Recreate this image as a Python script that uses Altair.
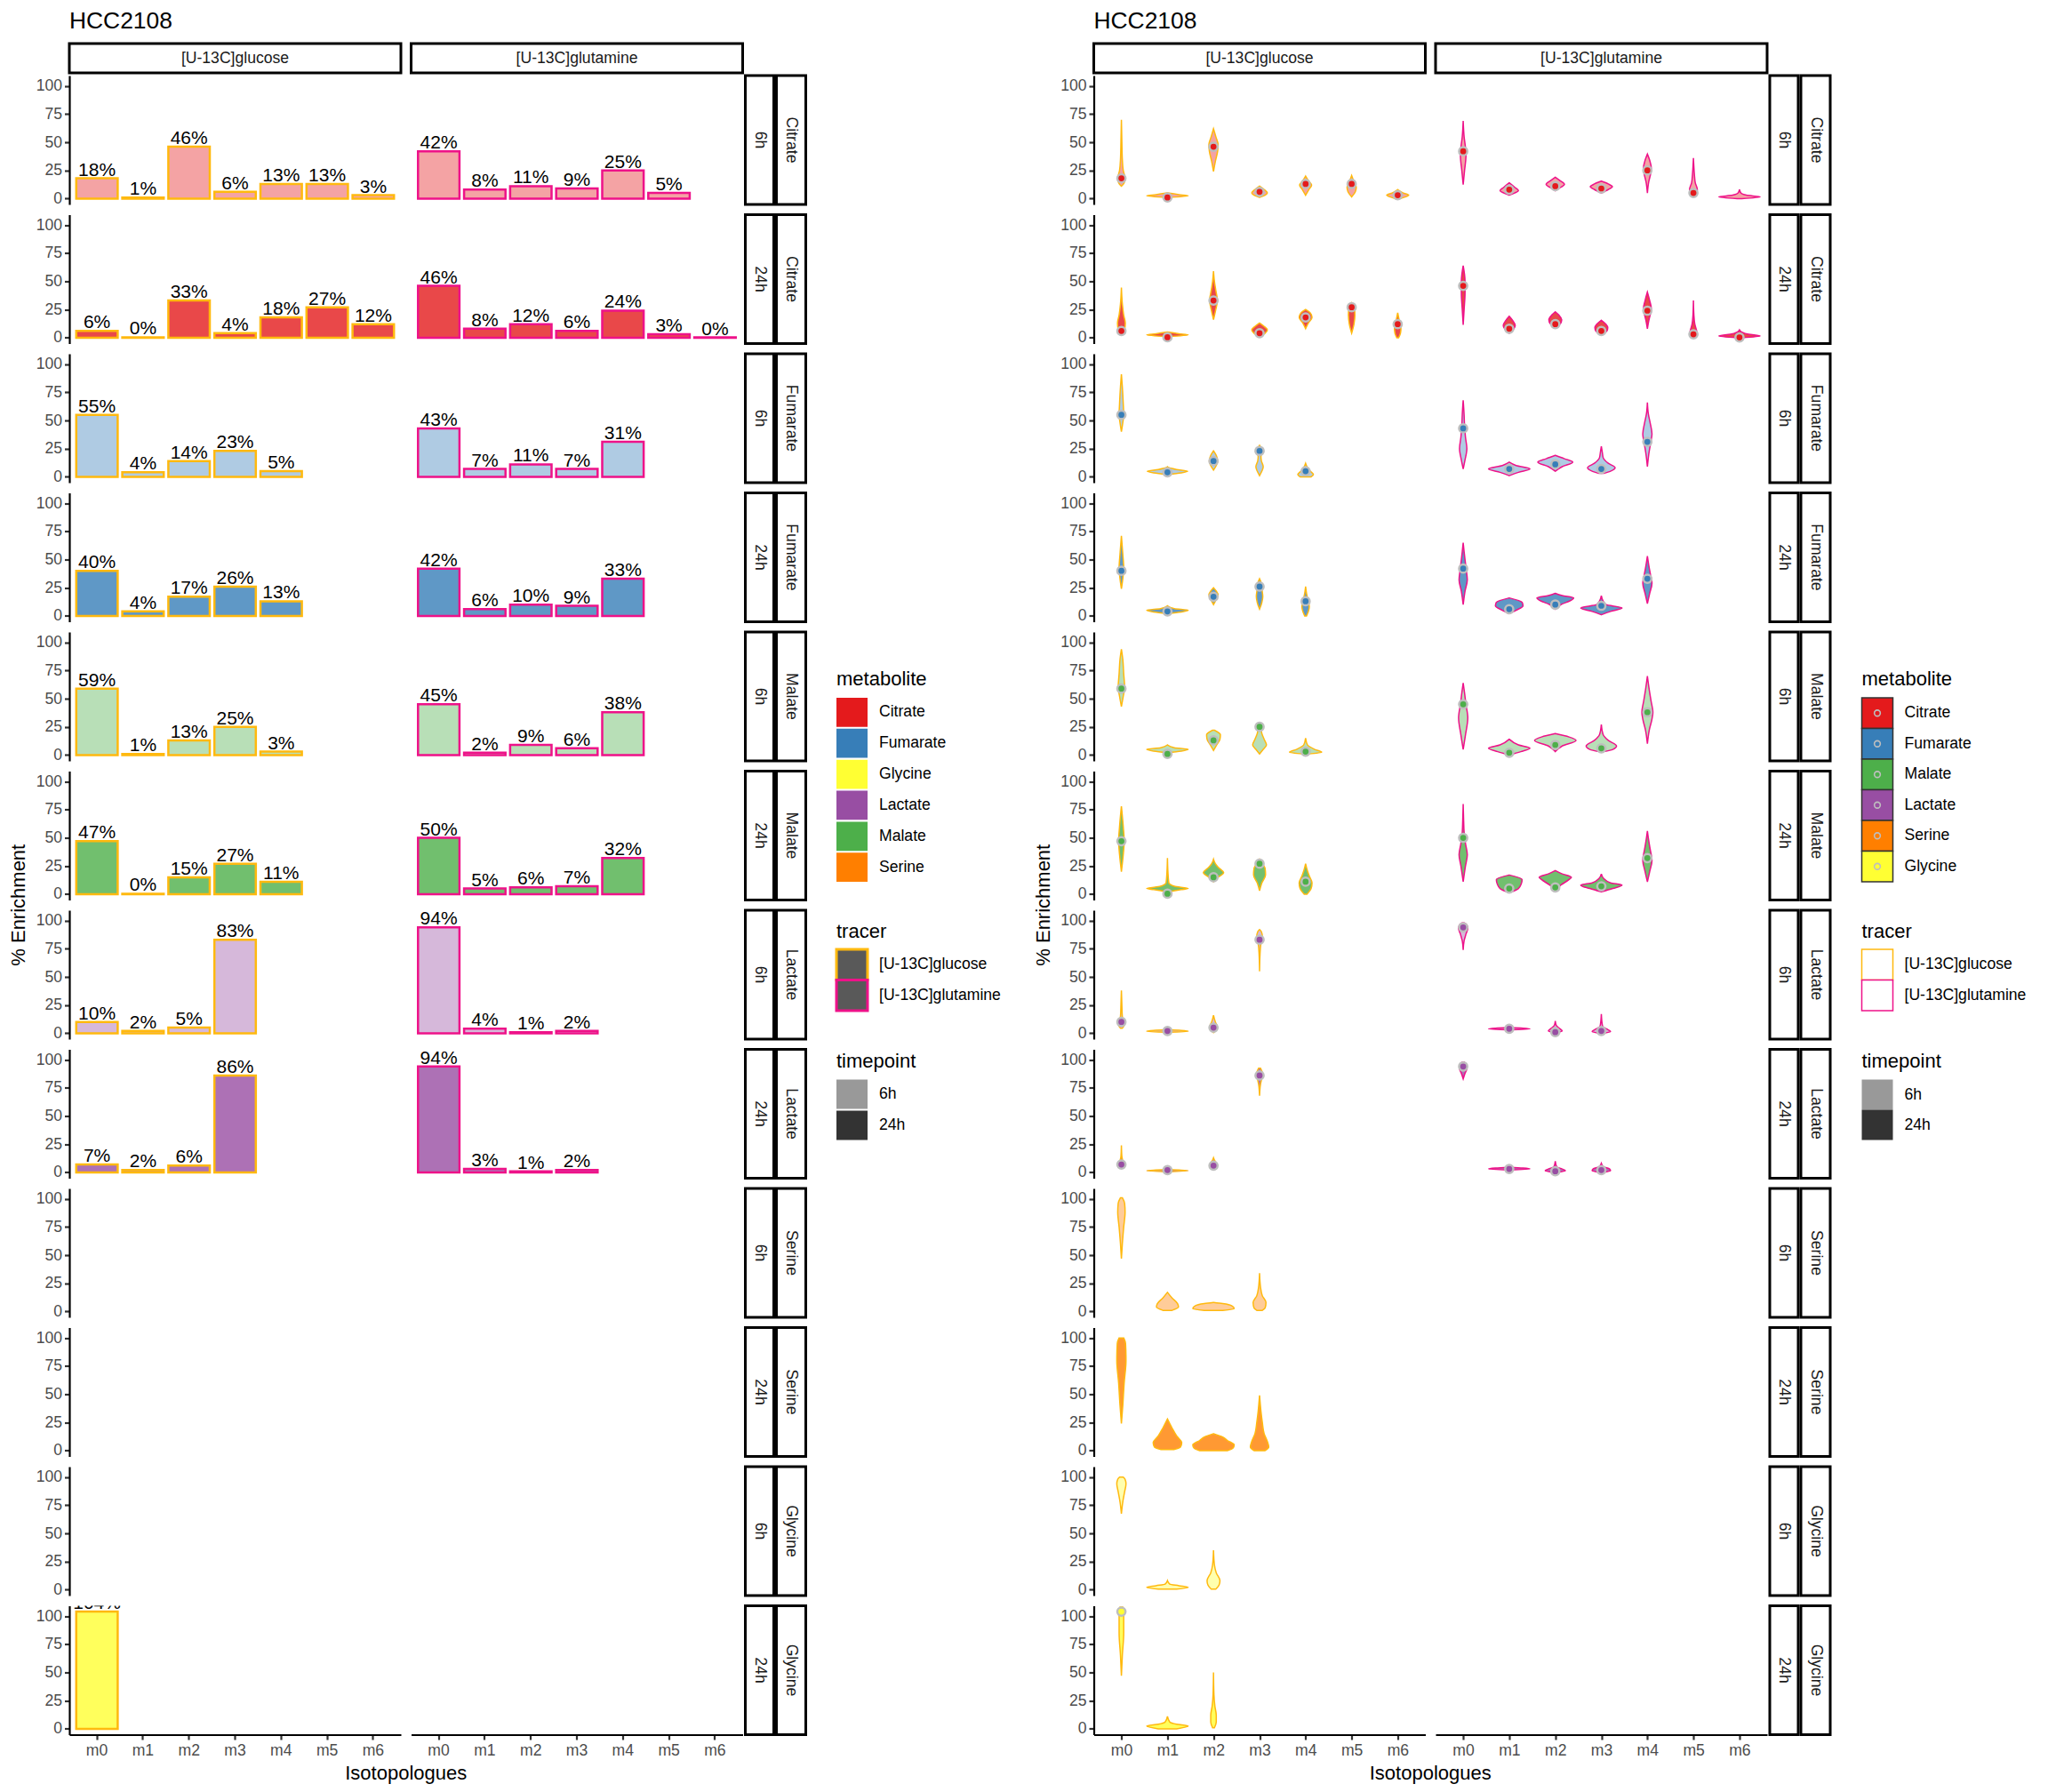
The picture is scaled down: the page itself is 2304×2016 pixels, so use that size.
import altair as alt
import pandas as pd

# ---------------- text / categories ----------------
plot_title = "HCC2108"
y_title = "% Enrichment"
x_title = "Isotopologues"
legend_titles = ["metabolite", "tracer", "timepoint"]
metabolites = ["Citrate", "Fumarate", "Malate", "Lactate", "Serine", "Glycine"]
legend_metabolites = ["Citrate", "Fumarate", "Glycine", "Lactate", "Malate", "Serine"]
timepoints = ["6h", "24h"]
tracers = ["[U-13C]glucose", "[U-13C]glutamine"]
isotopologues = ["m0", "m1", "m2", "m3", "m4", "m5", "m6"]
y_ticks = [0, 25, 50, 75, 100]

# ---------------- mean % enrichment (bars / points), m0.. ----------------
citrate_6h_glucose = [18, 1, 46, 6, 13, 13, 3]
citrate_6h_glutamine = [42, 8, 11, 9, 25, 5]
citrate_24h_glucose = [6, 0.4, 33, 4, 18, 27, 12]
citrate_24h_glutamine = [46, 8, 12, 6, 24, 3, 0.3]
fumarate_6h_glucose = [55, 4, 14, 23, 5]
fumarate_6h_glutamine = [43, 7, 11, 7, 31]
fumarate_24h_glucose = [40, 4, 17, 26, 13]
fumarate_24h_glutamine = [42, 6, 10, 9, 33]
malate_6h_glucose = [59, 1, 13, 25, 3]
malate_6h_glutamine = [45, 2, 9, 6, 38]
malate_24h_glucose = [47, 0.4, 15, 27, 11]
malate_24h_glutamine = [50, 5, 6, 7, 32]
lactate_6h_glucose = [10, 2, 5, 83]
lactate_6h_glutamine = [94, 4, 1, 2]
lactate_24h_glucose = [7, 2, 6, 86]
lactate_24h_glutamine = [94, 3, 1, 2]
glycine_24h_glucose = [104]

# ---------------- violin outlines: (enrichment levels, half-widths) per isotopologue ----------------
citrate_6h_glucose_violins = [
    ([11, 14, 18, 25, 35, 50, 70], [0, .06, .08, .04, .02, .01, 0]),
    ([1, 2.5, 3.5, 5], [0, .45, .25, 0]),
    ([24, 33, 42, 48, 55, 62], [0, .04, .09, .10, .05, 0]),
    ([1, 3, 5, 8, 11], [0, .12, .17, .10, 0]),
    ([3, 8, 12, 16, 20], [0, .07, .13, .06, 0]),
    ([1.5, 6, 10, 15, 20.5], [0, .08, .10, .05, 0]),
    ([0, 2, 3, 5, 8], [.05, .20, .24, .12, 0]),
]
citrate_6h_glutamine_violins = [
    ([12.5, 25, 38, 45, 55, 69], [0, .03, .06, .05, .02, 0]),
    ([3, 5, 7, 10, 14], [0, .12, .20, .12, 0]),
    ([7, 10, 12.5, 16, 19], [0, .12, .20, .10, 0]),
    ([5, 8, 10.5, 13, 15.5], [0, .15, .24, .15, 0]),
    ([5, 15, 22, 27, 34, 39.5], [0, .03, .07, .085, .05, 0]),
    ([2, 5, 8, 14, 22, 36], [0, .07, .085, .04, .02, 0]),
    ([0, 1.5, 3, 5, 8], [.05, .45, .15, .03, 0]),
]
citrate_24h_glucose_violins = [
    ([2.7, 7, 13, 20, 30, 44.5], [0, .07, .085, .05, .02, 0]),
    ([1, 2.5, 3.5, 5], [0, .45, .25, 0]),
    ([16, 25, 33, 42, 50, 59], [0, .05, .085, .05, .02, 0]),
    ([1, 4, 7, 10, 13], [0, .12, .17, .10, 0]),
    ([8, 13, 18, 22, 25], [0, .06, .14, .10, 0]),
    ([4, 12, 20, 26, 31], [0, .05, .07, .06, 0]),
    ([0, 4, 8, 14, 22], [.02, .06, .07, .04, 0]),
]
citrate_24h_glutamine_violins = [
    ([11.5, 25, 40, 50, 64], [0, .02, .04, .04, 0]),
    ([4, 8, 11, 15, 19], [0, .10, .13, .08, 0]),
    ([9, 12, 16, 20, 23], [0, .10, .14, .08, 0]),
    ([3, 6, 9, 12, 15.5], [0, .12, .14, .10, 0]),
    ([8, 15, 22, 26, 33, 40.5], [0, .03, .07, .085, .05, 0]),
    ([0, 3, 6, 12, 20, 33], [.03, .08, .07, .03, .01, 0]),
    ([0, 1.5, 3, 5, 7], [.05, .45, .20, .05, 0]),
]
fumarate_6h_glucose_violins = [
    ([40, 48, 55, 65, 80, 91], [0, .03, .05, .04, .02, 0]),
    ([2, 3.5, 5, 6.5, 8, 9], [0, .30, .44, .20, .04, 0]),
    ([6, 10, 14, 19, 23], [0, .06, .09, .06, 0]),
    ([1, 5, 9, 14, 18, 23, 28], [0, .05, .08, .04, .03, .06, 0]),
    ([0, 2, 5, 9, 12], [.12, .17, .10, .03, 0]),
]
fumarate_6h_glutamine_violins = [
    ([7, 15, 25, 35, 45, 55, 68], [0, .04, .08, .05, .03, .02, 0]),
    ([1, 4, 7, 10, 13], [0, .20, .45, .15, 0]),
    ([5, 9, 13, 16, 19], [0, .15, .38, .20, 0]),
    ([3, 5, 8, 12, 17, 22, 27], [.05, .20, .30, .15, .04, .02, 0]),
    ([9, 20, 30, 38, 48, 56, 66], [0, .03, .07, .10, .06, .02, 0]),
]
fumarate_24h_glucose_violins = [
    ([24, 33, 42, 55, 71], [0, .03, .05, .03, 0]),
    ([2, 3.5, 5, 6.5, 9], [0, .30, .45, .15, 0]),
    ([10, 14, 19, 22, 25], [0, .05, .10, .06, 0]),
    ([6, 12, 17, 24, 30, 33], [0, .05, .07, .05, .03, 0]),
    ([0, 4, 8, 14, 20, 26], [.02, .06, .08, .05, .02, 0]),
]
fumarate_24h_glutamine_violins = [
    ([10, 22, 32, 40, 50, 57, 65], [0, .04, .09, .07, .04, .02, 0]),
    ([2, 5, 9, 12, 16], [0, .15, .30, .28, 0]),
    ([6, 10, 14, 16, 18, 20], [0, .12, .35, .40, .15, 0]),
    ([1, 4, 7, 10, 14, 18], [0, .20, .45, .10, .03, 0]),
    ([11, 20, 29, 36, 45, 53], [0, .05, .10, .07, .03, 0]),
]
malate_6h_glucose_violins = [
    ([43, 52, 60, 72, 85, 94], [0, .04, .07, .05, .03, 0]),
    ([2, 3.5, 5, 6.5, 9], [0, .30, .45, .15, 0]),
    ([4, 9, 14, 18, 22], [0, .07, .14, .15, .02]),
    ([1, 5, 9, 14, 19, 24, 26], [0, .08, .15, .10, .05, .03, 0]),
    ([1, 2.5, 5, 9, 15], [.05, .35, .20, .04, 0]),
]
malate_6h_glutamine_violins = [
    ([5, 18, 33, 45, 55, 64], [0, .05, .10, .06, .03, 0]),
    ([0, 3, 6, 9, 14], [0, .25, .45, .20, 0]),
    ([3, 8, 13, 16, 19], [0, .15, .45, .30, 0]),
    ([3, 5, 8, 13, 18, 27], [.05, .25, .33, .15, .04, 0]),
    ([10, 22, 32, 38, 48, 58, 70], [0, .04, .10, .12, .08, .04, 0]),
]
malate_24h_glucose_violins = [
    ([20, 35, 47, 60, 78], [0, .04, .06, .04, 0]),
    ([2, 4, 5, 7, 10, 20, 32], [0, .30, .45, .15, .03, .01, 0]),
    ([11, 15, 19, 24, 27, 31], [0, .10, .22, .10, .04, 0]),
    ([3, 10, 17, 23, 27, 31], [0, .05, .13, .12, .06, 0]),
    ([0, 5, 10, 16, 22, 27], [.03, .12, .14, .08, .03, 0]),
]
malate_24h_glutamine_violins = [
    ([11, 25, 35, 45, 55, 65, 80], [0, .05, .09, .05, .02, .01, 0]),
    ([2, 5, 9, 13, 17], [.05, .20, .26, .28, 0]),
    ([3, 8, 13, 15, 18, 21], [0, .12, .30, .35, .15, 0]),
    ([2, 5, 8, 10, 14, 18], [0, .25, .45, .20, .05, 0]),
    ([11, 20, 30, 40, 50, 56], [0, .05, .10, .06, .02, 0]),
]
lactate_6h_glucose_violins = [
    ([4.5, 7, 10, 15, 25, 38], [.02, .06, .05, .02, .01, 0]),
    ([1, 1.8, 2.5, 3], [0, .45, .30, 0]),
    ([0.5, 3, 6, 10, 16], [0, .06, .08, .04, 0]),
    ([55, 70, 80, 86, 90, 92], [0, .01, .03, .06, .04, 0]),
]
lactate_6h_glutamine_violins = [
    ([74, 82, 88, 93, 96, 98], [0, .02, .06, .10, .08, .02]),
    ([3, 3.8, 4.5, 5], [0, .45, .30, 0]),
    ([0.5, 2, 4, 7, 11], [.03, .15, .10, .02, 0]),
    ([0, 1.5, 3, 6, 11, 17], [.03, .20, .15, .03, .01, 0]),
]
lactate_24h_glucose_violins = [
    ([4, 6, 9, 14, 24], [.02, .06, .04, .01, 0]),
    ([0.5, 1.5, 2, 2.5], [0, .45, .30, 0]),
    ([3, 5, 8, 11, 13], [0, .06, .06, .02, 0]),
    ([68, 78, 84, 88, 92.5], [0, .02, .05, .06, .02]),
]
lactate_24h_glutamine_violins = [
    ([83, 88, 92, 96, 98], [0, .04, .08, .06, .02]),
    ([2, 3, 3.8, 4.5], [0, .45, .30, 0]),
    ([0, 1.5, 3, 5, 10], [.03, .22, .15, .03, 0]),
    ([0, 1.5, 3, 5, 8], [.03, .20, .18, .05, 0]),
]
serine_6h_glucose_violins = [
    ([47, 60, 75, 88, 96, 101], [0, .02, .05, .08, .07, .02]),
    ([1, 4, 7, 12, 17], [.10, .24, .22, .10, 0]),
    ([1, 2.5, 5, 7, 8], [.20, .45, .40, .20, 0]),
    ([1, 3, 8, 14, 22, 34], [.06, .12, .14, .06, .02, 0]),
]
serine_24h_glucose_violins = [
    ([24, 40, 60, 80, 95, 100], [0, .03, .06, .10, .09, .05]),
    ([1, 3, 7, 13, 20, 28], [.15, .28, .31, .20, .10, 0]),
    ([0, 2, 5, 9, 12, 15], [.30, .42, .45, .30, .20, 0]),
    ([0, 3, 8, 15, 25, 35, 49], [.12, .20, .17, .10, .06, .03, 0]),
]
glycine_6h_glucose_violins = [
    ([67.5, 78, 87, 94, 98, 100], [0, .03, .07, .10, .08, .04]),
    ([0.5, 2, 3.5, 5, 8], [.20, .45, .25, .05, 0]),
    ([0.5, 4, 8, 15, 22, 35], [.05, .12, .14, .06, .02, 0]),
]
glycine_24h_glucose_violins = [
    ([47, 65, 85, 100, 108], [0, .02, .05, .05, .03]),
    ([0, 2.5, 4, 6, 11], [.20, .45, .20, .05, 0]),
    ([1, 6, 12, 20, 30, 50], [.02, .06, .06, .03, .01, 0]),
]

GLC, GLN = tracers
bar_panels = {
    ("Citrate", "6h", GLC): citrate_6h_glucose, ("Citrate", "6h", GLN): citrate_6h_glutamine,
    ("Citrate", "24h", GLC): citrate_24h_glucose, ("Citrate", "24h", GLN): citrate_24h_glutamine,
    ("Fumarate", "6h", GLC): fumarate_6h_glucose, ("Fumarate", "6h", GLN): fumarate_6h_glutamine,
    ("Fumarate", "24h", GLC): fumarate_24h_glucose, ("Fumarate", "24h", GLN): fumarate_24h_glutamine,
    ("Malate", "6h", GLC): malate_6h_glucose, ("Malate", "6h", GLN): malate_6h_glutamine,
    ("Malate", "24h", GLC): malate_24h_glucose, ("Malate", "24h", GLN): malate_24h_glutamine,
    ("Lactate", "6h", GLC): lactate_6h_glucose, ("Lactate", "6h", GLN): lactate_6h_glutamine,
    ("Lactate", "24h", GLC): lactate_24h_glucose, ("Lactate", "24h", GLN): lactate_24h_glutamine,
    ("Glycine", "24h", GLC): glycine_24h_glucose,
}
violin_panels = {
    ("Citrate", "6h", GLC): citrate_6h_glucose_violins, ("Citrate", "6h", GLN): citrate_6h_glutamine_violins,
    ("Citrate", "24h", GLC): citrate_24h_glucose_violins, ("Citrate", "24h", GLN): citrate_24h_glutamine_violins,
    ("Fumarate", "6h", GLC): fumarate_6h_glucose_violins, ("Fumarate", "6h", GLN): fumarate_6h_glutamine_violins,
    ("Fumarate", "24h", GLC): fumarate_24h_glucose_violins, ("Fumarate", "24h", GLN): fumarate_24h_glutamine_violins,
    ("Malate", "6h", GLC): malate_6h_glucose_violins, ("Malate", "6h", GLN): malate_6h_glutamine_violins,
    ("Malate", "24h", GLC): malate_24h_glucose_violins, ("Malate", "24h", GLN): malate_24h_glutamine_violins,
    ("Lactate", "6h", GLC): lactate_6h_glucose_violins, ("Lactate", "6h", GLN): lactate_6h_glutamine_violins,
    ("Lactate", "24h", GLC): lactate_24h_glucose_violins, ("Lactate", "24h", GLN): lactate_24h_glutamine_violins,
    ("Serine", "6h", GLC): serine_6h_glucose_violins, ("Serine", "24h", GLC): serine_24h_glucose_violins,
    ("Glycine", "6h", GLC): glycine_6h_glucose_violins, ("Glycine", "24h", GLC): glycine_24h_glucose_violins,
}

# ---------------- tables ----------------
bar_rows = []
for (m, t, tr), vals in bar_panels.items():
    for i, v in enumerate(vals):
        bar_rows.append(dict(metabolite=m, timepoint=t, tracer=tr, iso=isotopologues[i], idx=i, value=v))
bar_df = pd.DataFrame(bar_rows)

vio_rows = []
for (m, t, tr), vlist in violin_panels.items():
    for i, (ys, ws) in enumerate(vlist):
        for y, w in zip(ys, ws):
            vio_rows.append(dict(metabolite=m, timepoint=t, tracer=tr, iso=isotopologues[i], idx=i, y=y, hw=w))
vio_df = pd.DataFrame(vio_rows)

rows = [(m, t) for m in metabolites for t in timepoints]
strip_df = pd.DataFrame([dict(metabolite=m, timepoint=t) for m, t in rows])
header_df = pd.DataFrame({"tracer": tracers})
title_df = pd.DataFrame({"label": [plot_title]})
ytitle_df = pd.DataFrame({"label": [y_title]})
xtitle_df = pd.DataFrame({"label": [x_title]})
blank_df = pd.DataFrame({"label": [""]})

# ---------------- styling ----------------
FONT = "Liberation Sans"
metab_colors = ["#E41A1C", "#377EB8", "#FFFF33", "#984EA3", "#4DAF4A", "#FF7F00"]  # legend_metabolites order
tracer_colors = ["#FFB90F", "#EE1289"]
tp_alpha = [0.4, 0.8]
PW, PH, GAP = 373, 145, 11.5
SPW, LW = 372, 250

fill_scale = alt.Scale(domain=legend_metabolites, range=metab_colors)
stroke_scale = alt.Scale(domain=tracers, range=tracer_colors)
op_scale = alt.Scale(domain=timepoints, range=tp_alpha)
y_scale = alt.Scale(domain=[-5.2, 109.2], nice=False, zero=False)
band_x = alt.Scale(domain=isotopologues, paddingInner=0.1, paddingOuter=0.15)
quant_x = alt.Scale(domain=[-0.6, 6.6], nice=False, zero=False)

y_axis = alt.Axis(values=y_ticks, title=None, grid=False)
band_axis = alt.Axis(title=None, labelAngle=0, grid=False)
quant_axis = alt.Axis(title=None, values=list(range(7)), labelExpr="'m' + datum.value",
                      grid=False, labelFlush=False)

fill_enc = alt.Fill("metabolite:N", scale=fill_scale, legend=None)
op_enc = alt.FillOpacity("timepoint:N", scale=op_scale, legend=None)
stroke_enc = alt.Stroke("tracer:N", scale=stroke_scale, legend=None)


def panel_filter(m, t, tr):
    return (alt.datum.metabolite == m) & (alt.datum.timepoint == t) & (alt.datum.tracer == tr)


def decorations(m, t, tr, r, c):
    layers = []
    if r == 0:
        hdr = alt.Chart(header_df).transform_filter(alt.datum.tracer == tr)
        layers.append(hdr.mark_rect(fill="white", stroke="black", strokeWidth=3).encode(
            x=alt.value(0), x2=alt.value(PW), y=alt.value(-36), y2=alt.value(-3)))
        layers.append(hdr.mark_text(fontSize=17.6, color="#1A1A1A", font=FONT).encode(
            x=alt.value(PW / 2), y=alt.value(-19.5), text="tracer:N"))
        if c == 0:
            layers.append(alt.Chart(title_df).mark_text(
                align="left", baseline="middle", fontSize=26.4, font=FONT).encode(
                x=alt.value(0), y=alt.value(-61), text="label:N"))
    if c == 1:
        st = alt.Chart(strip_df).transform_filter(
            (alt.datum.metabolite == m) & (alt.datum.timepoint == t))
        for (a, b, field) in [(3, 35, "timepoint"), (38, 71, "metabolite")]:
            layers.append(st.mark_rect(fill="white", stroke="black", strokeWidth=3).encode(
                x=alt.value(PW + a), x2=alt.value(PW + b), y=alt.value(0), y2=alt.value(PH)))
            layers.append(st.mark_text(angle=90, fontSize=17.6, color="#1A1A1A", font=FONT).encode(
                x=alt.value(PW + (a + b) / 2), y=alt.value(PH / 2), text=f"{field}:N"))
    if c == 0 and r == 5:
        layers.append(alt.Chart(ytitle_df).mark_text(angle=270, fontSize=22, font=FONT).encode(
            x=alt.value(-57), y=alt.value(PH + GAP / 2), text="label:N"))
    if c == 0 and r == len(rows) - 1:
        layers.append(alt.Chart(xtitle_df).mark_text(fontSize=22, font=FONT).encode(
            x=alt.value((2 * PW + GAP) / 2), y=alt.value(PH + 43), text="label:N"))
    return layers


def bar_cell(m, t, tr, r, c):
    last = r == len(rows) - 1
    xenc = alt.X("iso:N", scale=band_x, axis=band_axis if last else None)
    yenc = alt.Y("value:Q", scale=y_scale, axis=y_axis if c == 0 else None)
    base = alt.Chart(bar_df).transform_filter(panel_filter(m, t, tr))
    bars = base.mark_bar(strokeWidth=2.5).encode(
        x=xenc, y=yenc, fill=fill_enc, fillOpacity=op_enc, stroke=stroke_enc)
    labels = base.transform_calculate(
        label="format(datum.value, '.0f') + '%'"
    ).mark_text(baseline="alphabetic", dy=-3, fontSize=21, clip=True, font=FONT, color="black").encode(
        x=xenc, y=yenc, text="label:N")
    return alt.layer(bars, labels, *decorations(m, t, tr, r, c)).properties(width=PW, height=PH)


def violin_cell(m, t, tr, r, c):
    last = r == len(rows) - 1
    xa = quant_axis if last else None
    ya = y_axis if c == 0 else None
    vio = alt.Chart(vio_df).transform_filter(panel_filter(m, t, tr)).transform_calculate(
        xl="datum.idx - datum.hw", xr="datum.idx + datum.hw"
    ).mark_area(orient="horizontal", interpolate="monotone", strokeWidth=1.5).encode(
        y=alt.Y("y:Q", scale=y_scale, axis=ya),
        x=alt.X("xl:Q", scale=quant_x, axis=xa, stack=None),
        x2="xr:Q",
        detail="iso:N",
        fill=fill_enc, fillOpacity=op_enc, stroke=stroke_enc)
    pts = alt.Chart(bar_df).transform_filter(panel_filter(m, t, tr)).mark_circle(
        size=85, stroke="#BEBEBE", strokeWidth=2.5, opacity=1).encode(
        x=alt.X("idx:Q", scale=quant_x, axis=xa),
        y=alt.Y("value:Q", scale=y_scale, axis=ya),
        fill=fill_enc)
    return alt.layer(vio, pts, *decorations(m, t, tr, r, c)).properties(width=PW, height=PH)


def spacer(w):
    return alt.Chart(blank_df).mark_text(opacity=0).encode(text="label:N").properties(width=w, height=PH)


legend_rows = {4: 0, 6: 1, 7: 2}
legend_y = {0: (53, [74, 281]), 1: (24, [44, 113]), 2: (13, [34, 102])}


def legend_cell(k, side, w):
    sx, lx = (94, 142) if side == "left" else (95, 143)
    title = legend_titles[k]
    ty, rng = legend_y[k]
    if k == 0:
        labels = legend_metabolites if side == "left" else metabolites
    elif k == 1:
        labels = tracers
    else:
        labels = timepoints
    pad = 0.06 if (side == "left" and k != 1) else 0
    df = pd.DataFrame({"label": labels})
    yenc = alt.Y("label:N", sort=labels,
                 scale=alt.Scale(domain=labels, range=rng, paddingInner=pad, paddingOuter=0), axis=None)
    base = alt.Chart(df)
    lay = []
    xs = dict(x=alt.value(sx), x2=alt.value(sx + 35))
    if k == 0:
        if side == "left":
            lay.append(base.mark_rect(strokeWidth=0).encode(
                y=yenc, fill=alt.Fill("label:N", scale=fill_scale, legend=None), **xs))
        else:
            lay.append(base.mark_rect(stroke="#333333", strokeWidth=1.5).encode(
                y=yenc, fill=alt.Fill("label:N", scale=fill_scale, legend=None), **xs))
            lay.append(base.mark_point(shape="circle", filled=False, color="#BEBEBE", size=45,
                                       strokeWidth=1.6, opacity=1).encode(
                y=yenc, x=alt.value(sx + 17.5)))
    elif k == 1:
        if side == "left":
            lay.append(base.mark_rect(fill="#595959", strokeWidth=3).encode(
                y=yenc, stroke=alt.Stroke("label:N", scale=stroke_scale, legend=None), **xs))
        else:
            lay.append(base.mark_rect(fill="white", strokeWidth=1.5).encode(
                y=yenc, stroke=alt.Stroke("label:N", scale=stroke_scale, legend=None), **xs))
    else:
        lay.append(base.mark_rect(fill="black", strokeWidth=0).encode(
            y=yenc, fillOpacity=alt.FillOpacity("label:N", scale=op_scale, legend=None), **xs))
    lay.append(base.mark_text(align="left", baseline="middle", fontSize=17.6, font=FONT,
                              color="black").encode(y=yenc, x=alt.value(lx), text="label:N"))
    lay.append(alt.Chart(pd.DataFrame({"label": [title]})).mark_text(
        align="left", baseline="middle", fontSize=22, font=FONT, color="black").encode(
        x=alt.value(sx), y=alt.value(ty), text="label:N"))
    return alt.layer(*lay).properties(width=w, height=PH)


cells = []
for r, (m, t) in enumerate(rows):
    cells.append(bar_cell(m, t, GLC, r, 0))
    cells.append(bar_cell(m, t, GLN, r, 1))
    cells.append(legend_cell(legend_rows[r], "left", SPW) if r in legend_rows else spacer(SPW))
    cells.append(violin_cell(m, t, GLC, r, 0))
    cells.append(violin_cell(m, t, GLN, r, 1))
    cells.append(legend_cell(legend_rows[r], "right", LW) if r in legend_rows else spacer(LW))

chart = alt.concat(*cells, columns=6, spacing=GAP, bounds="flush").resolve_scale(
    x="independent", y="independent"
).properties(
    padding={"left": 2, "top": 3, "right": 2, "bottom": 2}
).configure(
    font=FONT
).configure_view(
    stroke=None
).configure_axis(
    domainColor="black", domainWidth=2.2, tickColor="#333333", tickWidth=2.2, tickSize=5.5,
    labelColor="#4D4D4D", labelFontSize=17.6, labelPadding=3, labelFont=FONT, grid=False
)

chart.save("out.html", embed_options={"renderer": "svg", "actions": False})
